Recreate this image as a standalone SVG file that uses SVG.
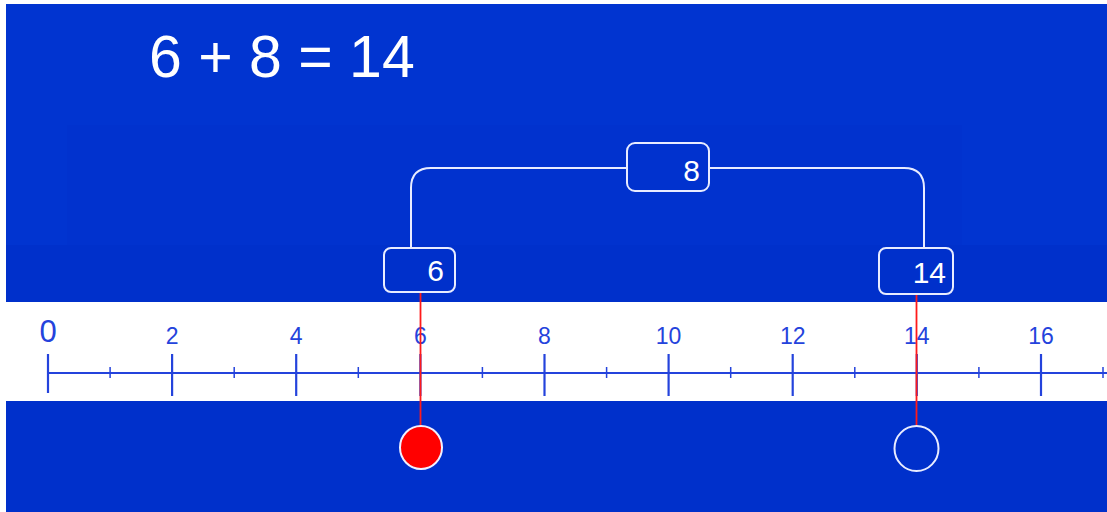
<svg xmlns="http://www.w3.org/2000/svg" width="1107" height="512" viewBox="0 0 1107 512">
<style>
.title{font-family:"Liberation Sans",Arial,sans-serif;font-size:59px;fill:#ffffff}
.box{fill:none;stroke:#e8ecff;stroke-width:2}
.btxt{font-family:"Liberation Sans",Arial,sans-serif;font-size:30px;fill:#ffffff;text-anchor:end}
.lbl{font-family:"Liberation Sans",Arial,sans-serif;font-size:23px;fill:#2443dc;text-anchor:middle}
.major{stroke:#2443dc;stroke-width:2.2}
.minor{stroke:#2443dc;stroke-width:1.5}
.conn{fill:none;stroke:#e8ecff;stroke-width:2}
.red{stroke:#ff1a1a;stroke-width:1.8}
</style>
<rect x="0" y="0" width="1107" height="512" fill="#ffffff"/>
<rect x="6" y="4" width="1101" height="508" fill="#0030cb"/>
<rect x="6" y="4" width="1101" height="241" fill="#0134d0"/>
<rect x="67" y="125" width="895" height="120" fill="#0132ce"/>
<rect x="6" y="302" width="1101" height="99" fill="#ffffff"/>
<text class="title" x="149" y="77">6 + 8 = 14</text>
<g id="ruler">
<line class="major" x1="48" y1="373" x2="1107" y2="373"/>
<line class="major" x1="48" y1="354" x2="48" y2="393"/>
<line class="major" x1="172.1" y1="354" x2="172.1" y2="396"/>
<line class="major" x1="296.2" y1="354" x2="296.2" y2="396"/>
<line class="major" x1="420.4" y1="354" x2="420.4" y2="396"/>
<line class="major" x1="544.5" y1="354" x2="544.5" y2="396"/>
<line class="major" x1="668.6" y1="354" x2="668.6" y2="396"/>
<line class="major" x1="792.7" y1="354" x2="792.7" y2="396"/>
<line class="major" x1="916.8" y1="354" x2="916.8" y2="396"/>
<line class="major" x1="1041" y1="354" x2="1041" y2="396"/>
<line class="minor" x1="110.1" y1="367" x2="110.1" y2="378"/>
<line class="minor" x1="234.2" y1="367" x2="234.2" y2="378"/>
<line class="minor" x1="358.3" y1="367" x2="358.3" y2="378"/>
<line class="minor" x1="482.4" y1="367" x2="482.4" y2="378"/>
<line class="minor" x1="606.6" y1="367" x2="606.6" y2="378"/>
<line class="minor" x1="730.7" y1="367" x2="730.7" y2="378"/>
<line class="minor" x1="854.8" y1="367" x2="854.8" y2="378"/>
<line class="minor" x1="978.9" y1="367" x2="978.9" y2="378"/>
<line class="minor" x1="1103" y1="367" x2="1103" y2="378"/>
<text class="lbl" x="48" y="342" style="font-size:31px">0</text>
<text class="lbl" x="172.1" y="344">2</text>
<text class="lbl" x="296.2" y="344">4</text>
<text class="lbl" x="420.4" y="344">6</text>
<text class="lbl" x="544.5" y="344">8</text>
<text class="lbl" x="668.6" y="344">10</text>
<text class="lbl" x="792.7" y="344">12</text>
<text class="lbl" x="916.8" y="344">14</text>
<text class="lbl" x="1041" y="344">16</text>
</g>
<g id="connectors">
<path class="conn" d="M411,247 V188 Q411,168 431,168 H627"/>
<path class="conn" d="M709,168 H904 Q924,168 924,188 V248"/>
<line class="red" x1="420.5" y1="293" x2="420.5" y2="427"/>
<line class="red" x1="916.5" y1="295" x2="916.5" y2="427"/>
</g>
<g id="box6">
<rect class="box" x="384" y="248" width="71" height="44" rx="7"/>
<text class="btxt" x="444" y="281">6</text>
</g>
<g id="box8">
<rect class="box" x="627" y="143" width="82" height="48" rx="8"/>
<text class="btxt" x="700" y="181">8</text>
</g>
<g id="box14">
<rect class="box" x="879" y="248" width="74" height="46" rx="7"/>
<text class="btxt" x="946" y="283">14</text>
</g>
<g id="dot6">
<ellipse cx="421" cy="447.5" rx="21" ry="21.5" fill="#ff0000" stroke="#f0f0ff" stroke-width="2"/>
</g>
<g id="dot14">
<ellipse cx="916.5" cy="448.5" rx="22" ry="22.5" fill="none" stroke="#e8ecff" stroke-width="2"/>
</g>
</svg>
